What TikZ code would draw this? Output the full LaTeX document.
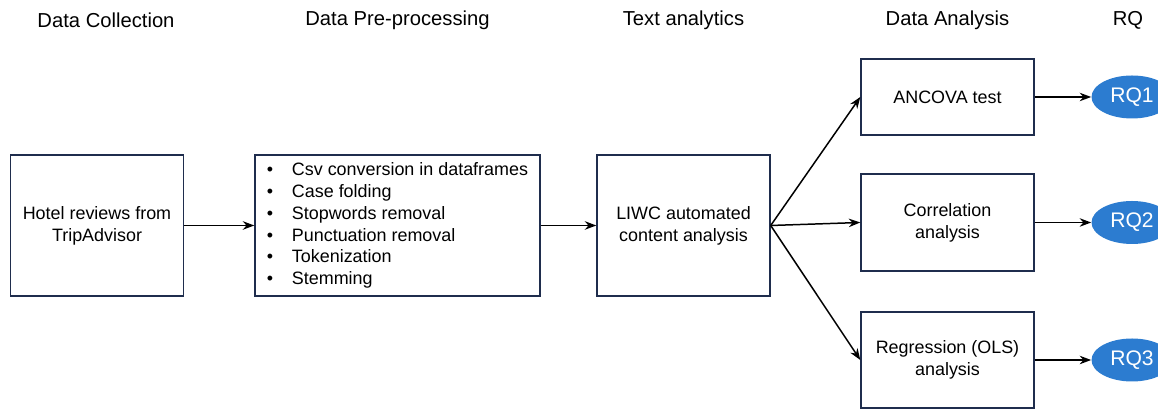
\documentclass[tikz,border=0pt]{standalone}
\usepackage{fontspec}
\setmainfont{Liberation Sans}
\usetikzlibrary{arrows.meta, positioning, shapes.geometric}
\definecolor{boxline}{RGB}{31,45,77}
\definecolor{rqblue}{RGB}{44,124,208}
\newcommand{\itm}[1]{\makebox[0.5cm][l]{\textbullet}#1}
\tikzstyle{box} = [rectangle, 
minimum width=3.46cm, 
minimum height=2.82cm,
align=center, 
draw=boxline,
line width=0.8pt,
font=\fontsize{10.2}{12.4}\selectfont]
\tikzstyle{rq} = [ellipse, fill=rqblue, text=white, minimum width=1.62cm, minimum height=0.86cm, inner sep=0pt, font=\fontsize{12}{14}\selectfont]
\tikzstyle{head} = [font=\fontsize{11.5}{13}\selectfont]
\tikzstyle{arrow} = [-{Stealth[length=2.3mm, width=1.7mm]}, line width=0.85pt]

\begin{document}
\begin{tikzpicture}
		
		% canvas
		\useasboundingbox (0,0) rectangle (23.16,8.24);
		
		% Column headings
		\node[head] (h1) at (2.12, 7.84) {Data Collection};
		\node[head] (h2) at (7.95, 7.84) {Data Pre-processing};
		\node[head] (h3) at (13.67, 7.84) {Text analytics};
		\node[head] (h4) at (18.95, 7.84) {Data Analysis};
		\node[head] (h5) at (22.56, 7.84) {RQ};
		
		% Pipeline boxes
		\node[box] (hotel) at (1.94, 3.73) {Hotel reviews from\\TripAdvisor};
		\node[box, minimum width=5.70cm, align=left] (prep) at (7.95, 3.73) {
			\itm{Csv conversion in dataframes}\\
			\itm{Case folding}\\
			\itm{Stopwords removal}\\
			\itm{Punctuation removal}\\
			\itm{Tokenization}\\
			\itm{Stemming}
		};
		\node[box] (liwc) at (13.67, 3.73) {LIWC automated\\content analysis};
		
		% Analysis boxes
		\node[box, minimum height=1.52cm] (ancova) at (18.95, 6.30) {ANCOVA test};
		\node[box, minimum height=1.94cm] (corr) at (18.95, 3.79) {Correlation\\analysis};
		\node[box, minimum height=1.92cm] (regr) at (18.95, 1.04) {Regression (OLS)\\analysis};
		
		% Research questions
		\node[rq] (rq1) at (22.64, 6.30) {RQ1};
		\node[rq] (rq2) at (22.64, 3.79) {RQ2};
		\node[rq] (rq3) at (22.64, 1.04) {RQ3};
		
		% Connections
		\draw[arrow] (hotel) -- (prep);
		\draw[arrow] (prep) -- (liwc);
		\foreach \t in {ancova, corr, regr}
			\draw[arrow] (liwc.east) -- (\t.west);
		\draw[arrow] (ancova) -- (rq1);
		\draw[arrow] (corr) -- (rq2);
		\draw[arrow] (regr) -- (rq3);
		
	\end{tikzpicture}
\end{document}
